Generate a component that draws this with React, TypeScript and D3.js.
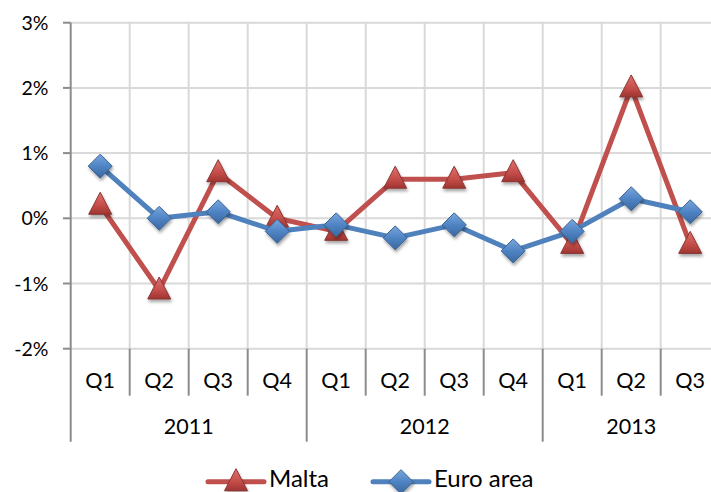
import React from 'react';
import * as d3 from 'd3';

const W = 711;
const H = 492;

const quarters = ['Q1', 'Q2', 'Q3', 'Q4', 'Q1', 'Q2', 'Q3', 'Q4', 'Q1', 'Q2', 'Q3'];
const years = [
  { label: '2011', start: 0, end: 4 },
  { label: '2012', start: 4, end: 8 },
  { label: '2013', start: 8, end: 11 },
];
const malta = [0.2, -1.1, 0.7, 0.0, -0.2, 0.6, 0.6, 0.7, -0.4, 2.0, -0.4];
const euroArea = [0.8, 0.0, 0.1, -0.2, -0.1, -0.3, -0.1, -0.5, -0.2, 0.3, 0.1];
const yTicks = [-2, -1, 0, 1, 2, 3];

const FONT = 'Lato, "Open Sans", sans-serif';
const PLOT = { left: 70.7, right: 719.7, top: 22.7, bottom: 348.7 };

const TRI = 'M0,-13 L11.5,9 L-11.5,9 Z';
const DIA = 'M0,-12 L12,0 L0,12 L-12,0 Z';

export default function App() {
  const idx = quarters.map((_, i) => i);
  const x = d3.scaleBand<number>().domain(idx).range([PLOT.left, PLOT.right]).padding(0);
  const y = d3.scaleLinear().domain([-2, 3]).range([PLOT.bottom, PLOT.top]);
  const cx = (i: number) => (x(i) as number) + x.bandwidth() / 2;
  const line = d3.line<number>().x((_, i) => cx(i)).y(d => y(d));

  const series = [
    { name: 'Malta', data: malta, color: '#C0504D', shape: TRI, grad: 'gRed', stroke: '#8a3533' },
    { name: 'Euro area', data: euroArea, color: '#4F81BD', shape: DIA, grad: 'gBlue', stroke: '#3a6494' },
  ];

  const tickBottom = 395.7;
  const yearBottom = 441.7;

  return (
    <svg width={W} height={H} style={{ position: 'absolute', left: 0, top: 0 }}>
      <defs>
        <linearGradient id="gRed" x1="0" y1="0" x2="0" y2="1">
          <stop offset="0" stopColor="#e0706c" />
          <stop offset="0.6" stopColor="#c44d49" />
          <stop offset="1" stopColor="#9e3431" />
        </linearGradient>
        <linearGradient id="gBlue" x1="0" y1="0" x2="0" y2="1">
          <stop offset="0" stopColor="#7aa6dc" />
          <stop offset="0.5" stopColor="#4f84c4" />
          <stop offset="1" stopColor="#3a679f" />
        </linearGradient>
        <filter id="shadow" x="-50%" y="-50%" width="200%" height="200%">
          <feDropShadow dx="1" dy="2.5" stdDeviation="1.6" floodColor="#000" floodOpacity="0.35" />
        </filter>
      </defs>
      <rect width={W} height={H} fill="#fff" />

      {/* gridlines */}
      {yTicks.map(t => (
        <line key={'h' + t} x1={PLOT.left} x2={PLOT.right} y1={y(t)} y2={y(t)} stroke="#d9d9d9" strokeWidth={2} />
      ))}
      {idx.slice(1).map(i => (
        <line key={'v' + i} x1={x(i)} x2={x(i)} y1={PLOT.top} y2={PLOT.bottom} stroke="#d9d9d9" strokeWidth={2} />
      ))}

      {/* y axis */}
      <line x1={PLOT.left} x2={PLOT.left} y1={PLOT.top} y2={yearBottom} stroke="#8c8c8c" strokeWidth={2} />
      {yTicks.map(t => (
        <g key={'yt' + t}>
          <line x1={63} x2={PLOT.left} y1={y(t)} y2={y(t)} stroke="#8c8c8c" strokeWidth={2} />
          <text x={48.5} y={y(t)} dy="0.36em" textAnchor="end" fontFamily={FONT} fontSize={19.5} fill="#000">
            {t + '%'}
          </text>
        </g>
      ))}

      {/* category axis */}
      {idx.slice(1).map(i => {
        const isYear = years.some(yr => yr.start === i);
        return (
          <line key={'ct' + i} x1={x(i)} x2={x(i)} y1={PLOT.bottom} y2={isYear ? yearBottom : tickBottom}
            stroke="#8c8c8c" strokeWidth={2} />
        );
      })}
      {quarters.map((q, i) => (
        <text key={'q' + i} x={cx(i)} y={388.3} textAnchor="middle" fontFamily={FONT} fontSize={21.5} fill="#000">{q}</text>
      ))}
      {years.map(yr => {
        const mid = ((x(yr.start) as number) + (x(yr.end - 1) as number) + x.bandwidth()) / 2;
        return (
          <text key={yr.label} x={mid} y={434} textAnchor="middle" fontFamily={FONT} fontSize={21.5} fill="#000">{yr.label}</text>
        );
      })}

      {/* series */}
      {series.map(s => (
        <g key={s.name}>
          <path d={line(s.data) || ''} fill="none" stroke={s.color} strokeWidth={5} strokeLinejoin="round" />
          {s.data.map((v, i) => (
            <path key={i} d={s.shape} transform={`translate(${cx(i)},${y(v)})`} fill={`url(#${s.grad})`}
              stroke={s.stroke} strokeWidth={1} filter="url(#shadow)" />
          ))}
        </g>
      ))}

      {/* legend */}
      {series.map((s, k) => {
        const lx = k === 0 ? 208 : 373;
        const ly = 481.7;
        return (
          <g key={'lg' + s.name}>
            <line x1={lx} x2={lx + 56} y1={ly} y2={ly} stroke={s.color} strokeWidth={5} strokeLinecap="round" />
            <path d={s.shape} transform={`translate(${lx + 28},${ly})`} fill={`url(#${s.grad})`}
              stroke={s.stroke} strokeWidth={1} filter="url(#shadow)" />
            <text x={lx + 61} y={487} fontFamily={FONT} fontSize={24} fill="#000">{s.name}</text>
          </g>
        );
      })}
    </svg>
  );
}
